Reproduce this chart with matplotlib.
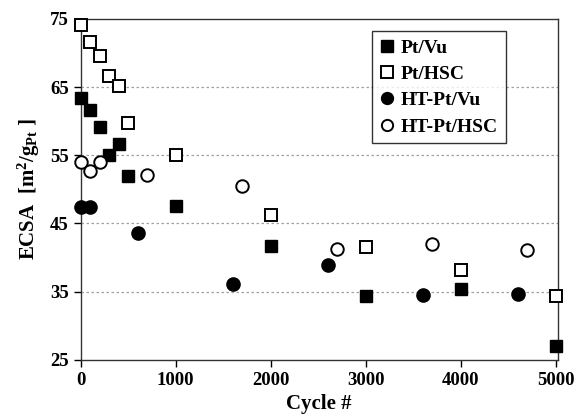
import matplotlib
matplotlib.use('Agg')
import matplotlib.pyplot as plt

plt.rcParams['font.family'] = ['Liberation Serif', 'DejaVu Serif']
plt.rcParams['font.weight'] = 'bold'
plt.rcParams['mathtext.fontset'] = 'custom'
plt.rcParams['mathtext.rm'] = 'Liberation Serif:bold'
plt.rcParams['mathtext.it'] = 'Liberation Serif:bold'
plt.rcParams['mathtext.bf'] = 'Liberation Serif:bold'

# data
pt_vu_x = [0, 100, 200, 300, 400, 500, 1000, 2000, 3000, 4000, 5000]
pt_vu_y = [63.4, 61.7, 59.2, 55.0, 56.7, 51.9, 47.6, 41.7, 34.3, 35.4, 27.1]

pt_hsc_x = [0, 100, 200, 300, 400, 500, 1000, 2000, 3000, 4000, 5000]
pt_hsc_y = [74.1, 71.6, 69.5, 66.6, 65.1, 59.8, 55.1, 46.3, 41.5, 38.2, 34.4]

ht_vu_x = [0, 100, 600, 1600, 2600, 3600, 4600]
ht_vu_y = [47.4, 47.4, 43.6, 36.1, 38.9, 34.5, 34.7]

ht_hsc_x = [0, 100, 200, 700, 1700, 2700, 3700, 4700]
ht_hsc_y = [54.0, 52.7, 54.0, 52.1, 50.5, 41.2, 42.0, 41.1]

fig = plt.figure(figsize=(5.76, 4.19), dpi=100)
ax = fig.add_axes([0.140, 0.141, 0.828, 0.814])

ms = 9
ax.plot(pt_vu_x, pt_vu_y, 's', color='black', ms=ms, label='Pt/Vu', clip_on=False, zorder=3)
ax.plot(pt_hsc_x, pt_hsc_y, 's', mfc='white', mec='black', mew=1.4, ms=ms, label='Pt/HSC', clip_on=False, zorder=3)
ax.plot(ht_vu_x, ht_vu_y, 'o', color='black', ms=ms + 0.5, label='HT-Pt/Vu', clip_on=False, zorder=3)
ax.plot(ht_hsc_x, ht_hsc_y, 'o', mfc='white', mec='black', mew=1.4, ms=ms, label='HT-Pt/HSC', clip_on=False, zorder=3)

ax.set_xlim(0, 5020)
ax.set_ylim(25, 75)
ax.set_xticks([0, 1000, 2000, 3000, 4000, 5000])
ax.set_yticks([25, 35, 45, 55, 65, 75])
for yv in [35, 45, 55, 65]:
    ax.axhline(yv, color='#a0a0a0', ls=(0, (2, 2)), lw=0.9, zorder=1)

ax.tick_params(direction='out', length=5, width=1, labelsize=13.5)
for s in ax.spines.values():
    s.set_linewidth(1.0)
    s.set_color('#333333')

ax.set_xlabel('Cycle #', fontsize=15, fontweight='bold', labelpad=4)
ax.set_ylabel(r'ECSA  [m$^{2}$/g$_{\mathrm{Pt}}$ ]', fontsize=15, fontweight='bold', labelpad=6)

leg = ax.legend(loc='upper right', bbox_to_anchor=(0.891, 0.964), borderaxespad=0, fontsize=14,
                frameon=True, fancybox=False, edgecolor='black', handlelength=0.8, handletextpad=0.3,
                labelspacing=0.45, borderpad=0.4, markerscale=0.9)
leg.get_frame().set_linewidth(1.0)

fig.savefig('out.png', dpi=100)
